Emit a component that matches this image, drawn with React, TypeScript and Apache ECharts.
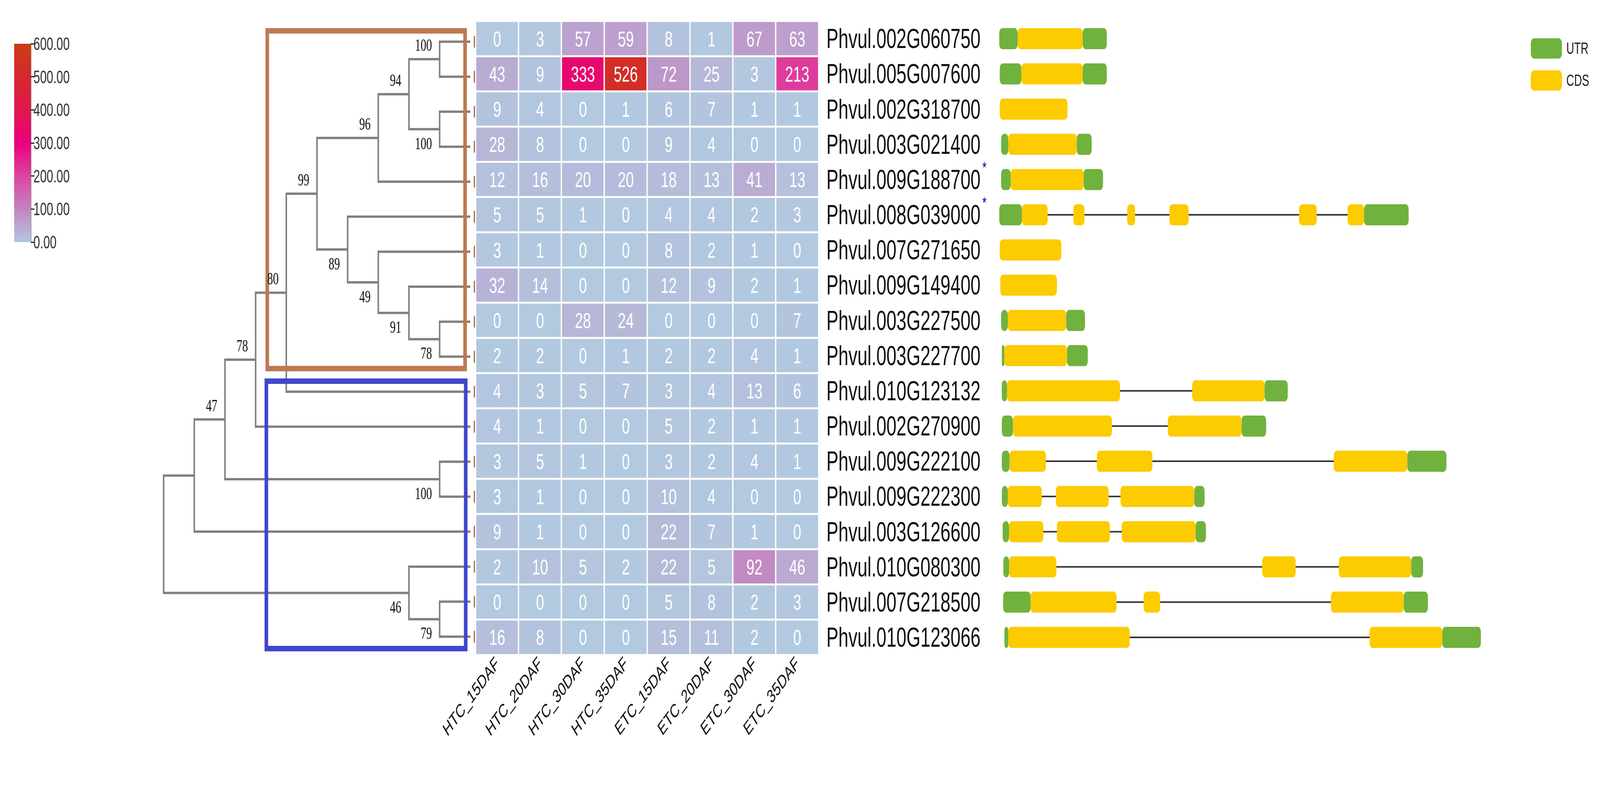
import React, { useEffect, useRef } from 'react';
import * as echarts from 'echarts';

// ---------------- data ----------------
const samples = ['HTC_15DAF', 'HTC_20DAF', 'HTC_30DAF', 'HTC_35DAF', 'ETC_15DAF', 'ETC_20DAF', 'ETC_30DAF', 'ETC_35DAF'];

const genes = [
  'Phvul.002G060750', 'Phvul.005G007600', 'Phvul.002G318700', 'Phvul.003G021400',
  'Phvul.009G188700', 'Phvul.008G039000', 'Phvul.007G271650', 'Phvul.009G149400',
  'Phvul.003G227500', 'Phvul.003G227700', 'Phvul.010G123132', 'Phvul.002G270900',
  'Phvul.009G222100', 'Phvul.009G222300', 'Phvul.003G126600', 'Phvul.010G080300',
  'Phvul.007G218500', 'Phvul.010G123066',
];

const starredGenes = ['Phvul.009G188700', 'Phvul.008G039000'];

const expression = [
  [0, 3, 57, 59, 8, 1, 67, 63],
  [43, 9, 333, 526, 72, 25, 3, 213],
  [9, 4, 0, 1, 6, 7, 1, 1],
  [28, 8, 0, 0, 9, 4, 0, 0],
  [12, 16, 20, 20, 18, 13, 41, 13],
  [5, 5, 1, 0, 4, 4, 2, 3],
  [3, 1, 0, 0, 8, 2, 1, 0],
  [32, 14, 0, 0, 12, 9, 2, 1],
  [0, 0, 28, 24, 0, 0, 0, 7],
  [2, 2, 0, 1, 2, 2, 4, 1],
  [4, 3, 5, 7, 3, 4, 13, 6],
  [4, 1, 0, 0, 5, 2, 1, 1],
  [3, 5, 1, 0, 3, 2, 4, 1],
  [3, 1, 0, 0, 10, 4, 0, 0],
  [9, 1, 0, 0, 22, 7, 1, 0],
  [2, 10, 5, 2, 22, 5, 92, 46],
  [0, 0, 0, 0, 5, 8, 2, 3],
  [16, 8, 0, 0, 15, 11, 2, 0],
];

// colour scale (value 0 -> 600)
const scaleMin = 0;
const scaleMax = 600;
const scaleInterval = 100;
const scaleColors = ['#b2c9e0', '#c384c0', '#dc45a0', '#e9007e', '#e0184e', '#d6282e', '#cc3d14'];

// phylogenetic tree (cladogram) with bootstrap support values
const treeNewick =
  '(((((((((Phvul.002G060750,Phvul.005G007600)100,(Phvul.002G318700,Phvul.003G021400)100)94,Phvul.009G188700)96,' +
  '(Phvul.008G039000,(Phvul.007G271650,(Phvul.009G149400,(Phvul.003G227500,Phvul.003G227700)78)91)49)89)99,' +
  'Phvul.010G123132)80,Phvul.002G270900)78,(Phvul.009G222100,Phvul.009G222300)100)47,Phvul.003G126600),' +
  '(Phvul.010G080300,(Phvul.007G218500,Phvul.010G123066)79)46);';

// clade highlight boxes [x0, y0, x1, y1] in tree units (depth, row)
const cladeBoxes = [
  [3.38, -0.31, 9.83, 9.34],
  [3.35, 9.7, 9.85, 17.34],
];
const cladeColors = ['#bd7a52', '#4046cc'];

// gene structures: [type, start, end] (bp)
const geneFeatures: [string, number, number][][] = [
  [['UTR', 0, 178], ['CDS', 178, 810], ['UTR', 810, 1045]],
  [['UTR', 5, 215], ['CDS', 215, 810], ['UTR', 810, 1045]],
  [['CDS', 5, 663]],
  [['UTR', 18, 88], ['CDS', 88, 753], ['UTR', 753, 898]],
  [['UTR', 18, 110], ['CDS', 110, 820], ['UTR', 820, 1008]],
  [['UTR', 0, 220], ['CDS', 220, 470], ['CDS', 720, 828], ['CDS', 1243, 1320], ['CDS', 1653, 1840], ['CDS', 2913, 3085], ['CDS', 3385, 3545], ['UTR', 3545, 3978]],
  [['CDS', 5, 603]],
  [['CDS', 10, 560]],
  [['UTR', 18, 83], ['CDS', 83, 650], ['UTR', 650, 833]],
  [['UTR', 25, 50], ['CDS', 50, 658], ['UTR', 658, 860]],
  [['UTR', 25, 75], ['CDS', 75, 1173], ['CDS', 1875, 2578], ['UTR', 2578, 2803]],
  [['UTR', 25, 133], ['CDS', 133, 1095], ['CDS', 1638, 2355], ['UTR', 2355, 2593]],
  [['UTR', 25, 100], ['CDS', 100, 453], ['CDS', 948, 1488], ['CDS', 3250, 3965], ['UTR', 3965, 4345]],
  [['UTR', 25, 83], ['CDS', 83, 413], ['CDS', 550, 1063], ['CDS', 1178, 1895], ['UTR', 1895, 1995]],
  [['UTR', 33, 95], ['CDS', 95, 428], ['CDS', 560, 1075], ['CDS', 1190, 1908], ['UTR', 1908, 2008]],
  [['UTR', 40, 95], ['CDS', 95, 555], ['CDS', 2555, 2880], ['CDS', 3300, 4003], ['UTR', 4003, 4118]],
  [['UTR', 38, 305], ['CDS', 305, 1140], ['CDS', 1403, 1563], ['CDS', 3223, 3930], ['UTR', 3930, 4165]],
  [['UTR', 50, 88], ['CDS', 88, 1268], ['CDS', 3598, 4305], ['UTR', 4305, 4680]],
];
const geneAxisMax = 5000;

const UTR_COLOR = '#70b23e';
const CDS_COLOR = '#fccb00';
const SANS = '"Liberation Sans", Arial, sans-serif';
const SERIF = '"Liberation Serif", "Times New Roman", serif';

const DESIGN_W = 6219;
const DESIGN_H = 2051;

// ---------------- tree layout ----------------
type TNode = { children: TNode[]; name: string; support: number | null; x: number; y: number; h: number; upper: boolean };

function parseNewick(s: string): TNode {
  let i = 0;
  const node = (): TNode => {
    const n: TNode = { children: [], name: '', support: null, x: 0, y: 0, h: 0, upper: false };
    if (s[i] === '(') {
      i++;
      n.children.push(node());
      while (s[i] === ',') {
        i++;
        n.children.push(node());
      }
      i++;
    }
    let tok = '';
    while (i < s.length && !',);('.includes(s[i])) tok += s[i++];
    if (n.children.length) n.support = tok ? Number(tok) : null;
    else n.name = tok;
    return n;
  };
  return node();
}

const treeRoot = parseNewick(treeNewick);
const heightOf = (n: TNode): number => {
  n.h = n.children.length ? 1 + Math.max(...n.children.map(heightOf)) : 0;
  return n.h;
};
const treeH = heightOf(treeRoot);
const treeSegments: number[][][] = [];
const treeLabels: number[][] = [];
const leafRows: number[][] = [];
const placeNode = (n: TNode) => {
  n.x = treeH - n.h;
  if (!n.children.length) {
    n.y = genes.indexOf(n.name);
    leafRows.push([n.x, n.y]);
    return;
  }
  n.children.forEach((c, k) => {
    c.upper = k === 0;
    placeNode(c);
  });
  const first = n.children[0];
  const last = n.children[n.children.length - 1];
  n.y = (first.y + last.y) / 2;
  treeSegments.push([
    [first.x, first.y],
    [n.x, first.y],
    [n.x, last.y],
    [last.x, last.y],
  ]);
  n.children.slice(1, -1).forEach((c) => treeSegments.push([[n.x, c.y], [c.x, c.y]]));
};
placeNode(treeRoot);
const collectLabels = (n: TNode) => {
  if (n.support !== null) treeLabels.push([n.x, n.y, n.support, n.upper ? 1 : 0]);
  n.children.forEach(collectLabels);
};
collectLabels(treeRoot);

// ---------------- derived series data ----------------
const heatData: number[][] = [];
expression.forEach((row, r) => row.forEach((v, c) => heatData.push([c, r, v])));

const utrItems: number[][] = [];
const cdsItems: number[][] = [];
geneFeatures.forEach((fs, row) =>
  fs.forEach(([t, s, e]) => (t === 'UTR' ? utrItems : cdsItems).push([s, row, e]))
);
const intronItems = geneFeatures.map((fs, row) => [
  Math.min(...fs.map((f) => f[1])),
  row,
  Math.max(...fs.map((f) => f[2])),
]);

const exonRender = (color: string) => (params: any, api: any) => {
  const a = api.coord([api.value(0), api.value(1)]);
  const b = api.coord([api.value(2), api.value(1)]);
  return {
    type: 'rect',
    shape: { x: a[0], y: a[1] - 27, width: b[0] - a[0], height: 54, r: 12 },
    style: { fill: color },
  };
};

const rowsMin = -0.5;
const rowsMax = genes.length - 0.5;

const buildOption = (): any => ({
  animation: false,
  backgroundColor: '#ffffff',
  grid: [
    { left: 55, top: 112, width: 65, height: 508, outerBoundsMode: 'none' },
    { left: 636, top: 62, width: 1192, height: 1613, outerBoundsMode: 'none' },
    { left: 1849, top: 54, width: 1333, height: 1623, outerBoundsMode: 'none' },
    { left: 3884, top: 54, width: 2000, height: 1623, outerBoundsMode: 'none' },
  ],
  xAxis: [
    { gridIndex: 0, type: 'category', data: [''], show: false },
    { gridIndex: 1, type: 'value', min: 0, max: treeH, show: false },
    {
      gridIndex: 2,
      type: 'category',
      data: samples,
      position: 'bottom',
      axisLine: { show: false },
      axisTick: { show: false },
      splitLine: { show: false },
      axisLabel: { interval: 0, rotate: 42, margin: 14, fontSize: 48, color: '#111', fontFamily: SANS },
    },
    { gridIndex: 3, type: 'value', min: 0, max: geneAxisMax, show: false },
  ],
  yAxis: [
    {
      gridIndex: 0,
      type: 'value',
      min: scaleMin,
      max: scaleMax,
      interval: scaleInterval,
      position: 'right',
      axisLine: { show: true, lineStyle: { color: '#8c8c8c', width: 4 } },
      axisTick: { show: true, length: 14, lineStyle: { color: '#222', width: 3 } },
      splitLine: { show: false },
      axisLabel: { margin: 10, fontSize: 46, color: '#333', fontFamily: SANS, formatter: (v: number) => v.toFixed(2) },
    },
    { gridIndex: 1, type: 'value', min: rowsMin, max: rowsMax, inverse: true, show: false },
    {
      gridIndex: 2,
      type: 'category',
      data: genes,
      inverse: true,
      position: 'right',
      axisLine: { show: false },
      axisTick: { show: false },
      splitLine: { show: false },
      axisLabel: {
        margin: 30,
        formatter: (v: string) => (starredGenes.includes(v) ? `{n|${v}}{s|★}` : `{n|${v}}`),
        rich: {
          n: { fontSize: 70, lineHeight: 100, color: '#111', fontFamily: SANS },
          s: { fontSize: 24, lineHeight: 24, color: '#3c3cd8', fontFamily: '"DejaVu Sans", sans-serif', verticalAlign: 'top', padding: [0, 0, 0, 4] },
        },
      },
    },
    { gridIndex: 3, type: 'value', min: rowsMin, max: rowsMax, inverse: true, show: false },
  ],
  visualMap: {
    type: 'continuous',
    show: false,
    min: scaleMin,
    max: scaleMax,
    seriesIndex: 5,
    inRange: { color: scaleColors },
  },
  legend: {
    data: ['UTR', 'CDS'],
    orient: 'vertical',
    left: 5945,
    top: 93,
    itemWidth: 121,
    itemHeight: 52,
    itemGap: 30,
    icon: 'roundRect',
    selectedMode: false,
    textStyle: { fontSize: 42, color: '#222', fontFamily: SANS, padding: [0, 0, 0, 12] },
  },
  series: [
    {
      type: 'bar',
      xAxisIndex: 0,
      yAxisIndex: 0,
      data: [scaleMax],
      barWidth: '100%',
      silent: true,
      itemStyle: {
        color: new echarts.graphic.LinearGradient(
          0, 0, 0, 1,
          scaleColors.slice().reverse().map((c, k) => ({ offset: k / (scaleColors.length - 1), color: c }))
        ),
      },
    },
    {
      type: 'custom',
      name: 'tree',
      xAxisIndex: 1,
      yAxisIndex: 1,
      silent: true,
      data: treeSegments.map((_, k) => [k]),
      renderItem: (params: any, api: any) => ({
        type: 'polyline',
        shape: { points: treeSegments[params.dataIndex].map((p) => api.coord(p)) },
        style: { stroke: '#808080', lineWidth: 6, fill: 'none', lineJoin: 'miter' },
      }),
    },
    {
      type: 'custom',
      name: 'leafTicks',
      xAxisIndex: 1,
      yAxisIndex: 1,
      silent: true,
      data: leafRows,
      renderItem: (params: any, api: any) => {
        const p = api.coord([api.value(0), api.value(1)]);
        return {
          type: 'line',
          shape: { x1: p[0] + 16, y1: p[1] - 15, x2: p[0] + 16, y2: p[1] + 15 },
          style: { stroke: '#b5683a', lineWidth: 5 },
        };
      },
    },
    {
      type: 'custom',
      name: 'cladeBoxes',
      xAxisIndex: 1,
      yAxisIndex: 1,
      silent: true,
      z: 5,
      data: cladeBoxes.map((_, k) => [k]),
      renderItem: (params: any, api: any) => {
        const b = cladeBoxes[params.dataIndex];
        const p0 = api.coord([b[0], b[1]]);
        const p1 = api.coord([b[2], b[3]]);
        return {
          type: 'rect',
          shape: { x: p0[0], y: p0[1], width: p1[0] - p0[0], height: p1[1] - p0[1] },
          style: { fill: 'none', stroke: cladeColors[params.dataIndex], lineWidth: 14 },
        };
      },
    },
    {
      type: 'custom',
      name: 'bootstrap',
      xAxisIndex: 1,
      yAxisIndex: 1,
      silent: true,
      z: 6,
      data: treeLabels,
      renderItem: (params: any, api: any) => {
        const p = api.coord([api.value(0), api.value(1)]);
        const upper = api.value(3) === 1;
        return {
          type: 'text',
          x: p[0] - 30,
          y: p[1] + (upper ? -36 : 36),
          style: {
            text: String(api.value(2)),
            align: 'right',
            verticalAlign: 'middle',
            fontSize: 44,
            fontFamily: SERIF,
            fill: '#111',
          },
        };
      },
    },
    {
      type: 'heatmap',
      xAxisIndex: 2,
      yAxisIndex: 2,
      data: heatData,
      silent: true,
      label: { show: true, color: '#ffffff', fontSize: 56, fontFamily: SANS, formatter: (p: any) => String(p.value[2]) },
      itemStyle: { borderColor: '#ffffff', borderWidth: 5 },
      emphasis: { disabled: true },
    },
    {
      type: 'custom',
      name: 'intron',
      xAxisIndex: 3,
      yAxisIndex: 3,
      silent: true,
      data: intronItems,
      encode: { x: [0, 2], y: 1 },
      renderItem: (params: any, api: any) => {
        const a = api.coord([api.value(0), api.value(1)]);
        const b = api.coord([api.value(2), api.value(1)]);
        return {
          type: 'line',
          shape: { x1: a[0], y1: a[1], x2: b[0], y2: b[1] },
          style: { stroke: '#333333', lineWidth: 4 },
        };
      },
    },
    {
      type: 'custom',
      name: 'UTR',
      xAxisIndex: 3,
      yAxisIndex: 3,
      silent: true,
      data: utrItems,
      encode: { x: [0, 2], y: 1 },
      itemStyle: { color: UTR_COLOR },
      renderItem: exonRender(UTR_COLOR),
    },
    {
      type: 'custom',
      name: 'CDS',
      xAxisIndex: 3,
      yAxisIndex: 3,
      silent: true,
      data: cdsItems,
      encode: { x: [0, 2], y: 1 },
      itemStyle: { color: CDS_COLOR },
      renderItem: exonRender(CDS_COLOR),
    },
  ],
});

export default function App() {
  const ref = useRef<HTMLDivElement>(null);
  const vw = typeof window !== 'undefined' ? window.innerWidth || DESIGN_W : DESIGN_W;
  const vh = typeof window !== 'undefined' ? window.innerHeight || DESIGN_H : DESIGN_H;
  const sx = Math.min(1, vw / DESIGN_W);
  const sy = Math.min(1, vh / DESIGN_H);
  useEffect(() => {
    if (!ref.current) return;
    const chart = echarts.init(ref.current, undefined, { renderer: 'svg' });
    chart.setOption(buildOption());
    return () => chart.dispose();
  }, []);
  return (
    <div style={{ position: 'fixed', left: 0, top: 0, width: '100vw', height: '100vh', overflow: 'hidden', background: '#fff' }}>
      <div
        ref={ref}
        style={{
          width: DESIGN_W + 'px',
          height: DESIGN_H + 'px',
          transform: `scale(${sx}, ${sy})`,
          transformOrigin: '0 0',
          background: '#fff',
        }}
      />
    </div>
  );
}
